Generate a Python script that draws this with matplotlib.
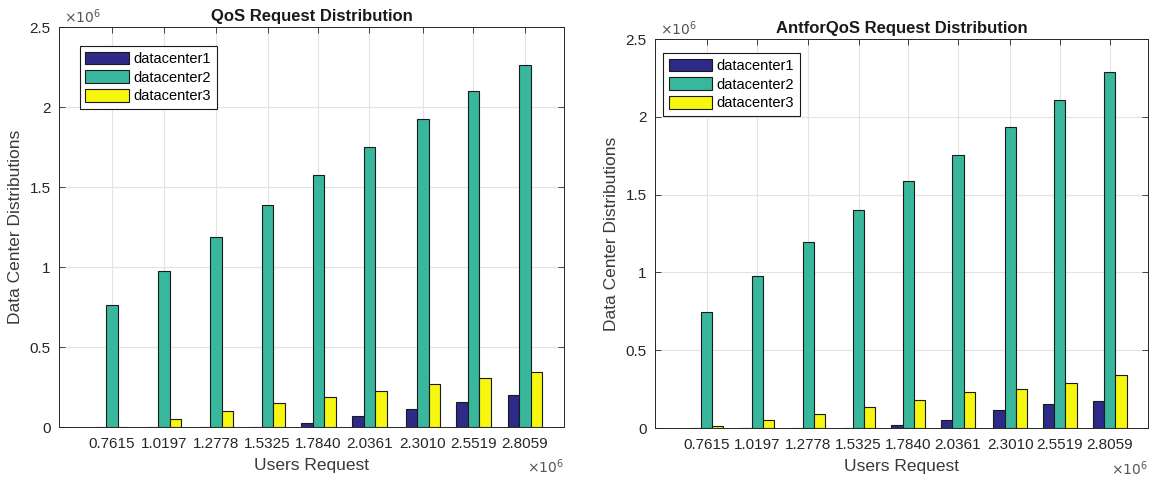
import numpy as np
import matplotlib
matplotlib.use("Agg")
import matplotlib.pyplot as plt
from matplotlib.ticker import FuncFormatter

plt.rcParams['font.family'] = ['Liberation Sans', 'DejaVu Sans']

users = [0.7615e6, 1.0197e6, 1.2778e6, 1.5325e6, 1.7840e6, 2.0361e6, 2.3010e6, 2.5519e6, 2.8059e6]
user_labels = ['0.7615', '1.0197', '1.2778', '1.5325', '1.7840', '2.0361', '2.3010', '2.5519', '2.8059']
series_names = ['datacenter1', 'datacenter2', 'datacenter3']

# QoS
qos_dc1 = [0, 0, 0, 0, 0.025e6, 0.066e6, 0.110e6, 0.156e6, 0.200e6]
qos_dc2 = [0.763e6, 0.975e6, 1.185e6, 1.389e6, 1.578e6, 1.750e6, 1.928e6, 2.100e6, 2.264e6]
qos_dc3 = [0, 0.052e6, 0.100e6, 0.148e6, 0.190e6, 0.228e6, 0.270e6, 0.307e6, 0.343e6]

# AntforQoS
ant_dc1 = [0.003e6, 0.003e6, 0.003e6, 0.003e6, 0.021e6, 0.049e6, 0.117e6, 0.153e6, 0.175e6]
ant_dc2 = [0.746e6, 0.974e6, 1.194e6, 1.401e6, 1.589e6, 1.757e6, 1.936e6, 2.111e6, 2.288e6]
ant_dc3 = [0.015e6, 0.049e6, 0.087e6, 0.132e6, 0.181e6, 0.230e6, 0.251e6, 0.288e6, 0.341e6]

colors = ['#2D2A88', '#38B79D', '#F6F60E']
axcol = '#262626'


def draw(ax, title, dc1, dc2, dc3, leg_anchor, xoff_y):
    x = np.array(users)
    w = 0.057e6
    for i, (vals, c) in enumerate(zip([dc1, dc2, dc3], colors)):
        ax.bar(x + (i - 1) * w, vals, width=w, color=c, edgecolor='#1a1a1a',
               linewidth=0.8, label=series_names[i], zorder=3)
    ax.set_xlim(0.5e6, 3.0e6)
    ax.set_ylim(0, 2.5e6)
    ax.set_xticks(users)
    ax.set_xticklabels(user_labels)
    ax.set_yticks(np.arange(0, 2.51e6, 0.5e6))
    ax.yaxis.set_major_formatter(FuncFormatter(lambda v, p: f'{v/1e6:g}'))
    ax.grid(True, color='#e3e3e3', linewidth=0.8, zorder=0)
    ax.tick_params(direction='in', top=True, right=True, length=4, width=0.6,
                   colors=axcol, labelsize=11)
    ax.tick_params(axis='x', pad=7)
    ax.tick_params(axis='y', pad=6)
    for s in ax.spines.values():
        s.set_color(axcol)
        s.set_linewidth(0.7)
    ax.set_title(title, fontsize=12, fontweight='bold', color='#1a1a1a', pad=4)
    ax.set_xlabel('Users Request', fontsize=12.5, color='#3a3a3a', labelpad=5)
    ax.set_ylabel('Data Center Distributions', fontsize=12.5, color='#3a3a3a', labelpad=5)
    ax.text(0.01, 1.003, r'$\times10^6$', transform=ax.transAxes, fontsize=10,
            color='#555555', va='bottom', ha='left')
    ax.text(1.0, xoff_y, r'$\times10^6$', transform=ax.transAxes, fontsize=10,
            color='#555555', va='center', ha='right')
    leg = ax.legend(loc='upper left', bbox_to_anchor=leg_anchor, fontsize=10.5,
                    handlelength=3.0, handleheight=0.95, labelspacing=0.3,
                    handletextpad=0.3, borderpad=0.4, borderaxespad=0.2,
                    fancybox=False, framealpha=1, edgecolor='#1a1a1a')
    leg.get_frame().set_linewidth(0.8)


fig = plt.figure(figsize=(11.56, 4.8), dpi=100)
ax1 = fig.add_axes([0.0510, 0.1104, 0.4369, 0.8333])
ax2 = fig.add_axes([0.5666, 0.1083, 0.4265, 0.8104])

draw(ax1, 'QoS Request Distribution', qos_dc1, qos_dc2, qos_dc3, (0.035, 0.96), -0.1)
draw(ax2, 'AntforQoS Request Distribution', ant_dc1, ant_dc2, ant_dc3, (0.01, 0.972), -0.105)

fig.savefig('out.png', dpi=100)
